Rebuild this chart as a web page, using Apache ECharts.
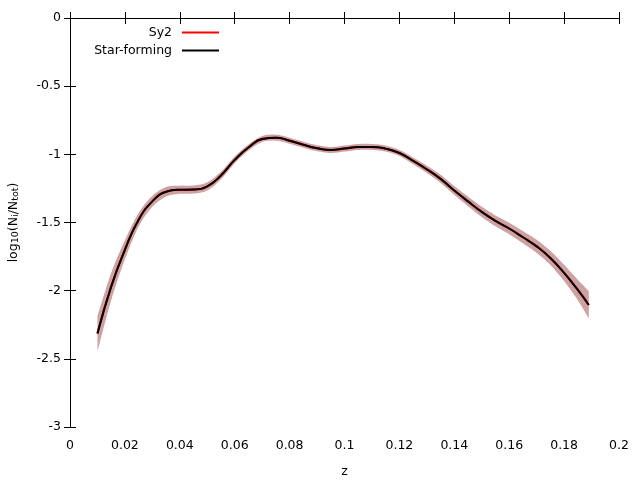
<!DOCTYPE html>
<html>
<head>
<meta charset="utf-8">
<script src="https://cdn.jsdelivr.net/npm/echarts@6/dist/echarts.min.js"></script>
<style>html,body{margin:0;padding:0;background:#fff;}#c{width:640px;height:480px;}</style>
</head>
<body>
<div id="c"></div>
<script>
const zValues = [0.010, 0.015, 0.020, 0.025, 0.030, 0.035, 0.040, 0.045, 0.050, 0.055, 0.060, 0.065, 0.070, 0.075, 0.080, 0.085, 0.090, 0.095, 0.100, 0.105, 0.110, 0.115, 0.120, 0.125, 0.130, 0.135, 0.140, 0.145, 0.150, 0.155, 0.160, 0.165, 0.170, 0.175, 0.180, 0.185, 0.189];
const starForming = [-2.315, -1.97, -1.70, -1.48, -1.345, -1.275, -1.26, -1.258, -1.235, -1.155, -1.041, -0.95, -0.888, -0.878, -0.90, -0.93, -0.955, -0.968, -0.958, -0.946, -0.946, -0.958, -0.99, -1.048, -1.11, -1.18, -1.265, -1.345, -1.422, -1.488, -1.544, -1.608, -1.675, -1.76, -1.87, -1.995, -2.105];
const sy2 = [-2.315, -1.97, -1.70, -1.48, -1.345, -1.275, -1.26, -1.258, -1.235, -1.155, -1.041, -0.95, -0.888, -0.878, -0.90, -0.93, -0.955, -0.968, -0.958, -0.946, -0.946, -0.958, -0.99, -1.048, -1.11, -1.18, -1.265, -1.345, -1.422, -1.488, -1.544, -1.608, -1.675, -1.76, -1.87, -1.995, -2.105];
const bandLower = [-2.445, -2.07, -1.77, -1.53, -1.385, -1.31, -1.29, -1.288, -1.265, -1.183, -1.066, -0.972, -0.91, -0.90, -0.922, -0.952, -0.977, -0.99, -0.98, -0.968, -0.968, -0.98, -1.012, -1.073, -1.137, -1.21, -1.297, -1.38, -1.46, -1.528, -1.586, -1.653, -1.723, -1.812, -1.93, -2.07, -2.205];
const bandUpper = [-2.185, -1.87, -1.63, -1.43, -1.305, -1.24, -1.23, -1.228, -1.205, -1.127, -1.016, -0.928, -0.866, -0.856, -0.878, -0.908, -0.933, -0.946, -0.936, -0.924, -0.924, -0.936, -0.968, -1.023, -1.083, -1.15, -1.233, -1.31, -1.384, -1.448, -1.502, -1.563, -1.627, -1.708, -1.81, -1.92, -2.005];
const legendNames = ['Sy2', 'Star-forming'];
const xTicks = {min: 0, max: 0.2, interval: 0.02};
const yTicks = {min: -3, max: 0, interval: 0.5};

const FONT = 'DejaVu Sans';
const pair = (xs, ys) => xs.map((x, i) => [x, ys[i]]);

// Catmull-Rom smoothing of pixel points (rendering only)
function smoothPixels(pts) {
  const out = [];
  const n = pts.length;
  for (let i = 0; i < n - 1; i++) {
    const p0 = pts[Math.max(i - 1, 0)], p1 = pts[i], p2 = pts[i + 1], p3 = pts[Math.min(i + 2, n - 1)];
    const steps = 8;
    for (let s = 0; s < steps; s++) {
      const t = s / steps, t2 = t * t, t3 = t2 * t;
      out.push([
        0.5 * (2 * p1[0] + (-p0[0] + p2[0]) * t + (2 * p0[0] - 5 * p1[0] + 4 * p2[0] - p3[0]) * t2 + (-p0[0] + 3 * p1[0] - 3 * p2[0] + p3[0]) * t3),
        0.5 * (2 * p1[1] + (-p0[1] + p2[1]) * t + (2 * p0[1] - 5 * p1[1] + 4 * p2[1] - p3[1]) * t2 + (-p0[1] + 3 * p1[1] - 3 * p2[1] + p3[1]) * t3)
      ]);
    }
  }
  out.push(pts[n - 1]);
  return out;
}

const chart = echarts.init(document.getElementById('c'), null, {renderer: 'canvas'});
const tickStyle = {show: true, inside: true, length: 6, lineStyle: {color: '#000', width: 1}};
const lineStyleAxis = {show: true, lineStyle: {color: '#000', width: 1}};
const legendText = {fontFamily: FONT, fontSize: 12.5, color: '#000', padding: [0, 5, 0, 0]};

chart.setOption({
  animation: false,
  backgroundColor: '#fff',
  grid: {left: 70, right: 21, top: 18, bottom: 53, containLabel: false, outerBoundsMode: 'none'},
  legend: [
    {data: [legendNames[0]], right: 421, top: 26, padding: 0, orient: 'vertical', align: 'right', icon: 'rect', itemWidth: 37, itemHeight: 2, textStyle: legendText},
    {data: [legendNames[1]], right: 421, top: 44, padding: 0, orient: 'vertical', align: 'right', icon: 'rect', itemWidth: 37, itemHeight: 2, textStyle: legendText}
  ],
  xAxis: [
    {type: 'value', position: 'bottom', min: xTicks.min, max: xTicks.max, interval: xTicks.interval, z: 10,
     name: 'z', nameLocation: 'middle', nameGap: 38,
     nameTextStyle: {fontFamily: FONT, fontSize: 12.5, color: '#000'},
     axisLine: lineStyleAxis, axisTick: tickStyle, splitLine: {show: false},
     axisLabel: {fontFamily: FONT, fontSize: 12.5, color: '#000', margin: 12}},
    {type: 'value', position: 'top', min: xTicks.min, max: xTicks.max, interval: xTicks.interval, z: 10,
     axisLine: lineStyleAxis, axisTick: tickStyle, splitLine: {show: false}, axisLabel: {show: false}}
  ],
  yAxis: [
    {type: 'value', position: 'left', min: yTicks.min, max: yTicks.max, interval: yTicks.interval, z: 10,
     name: '{a|log}{b|10}{a|(N}{b|i}{a|/N}{b|tot}{a|)}', nameLocation: 'middle', nameGap: 49,
     nameTextStyle: {fontFamily: FONT, fontSize: 12.5, color: '#000',
       rich: {
         a: {fontFamily: FONT, fontSize: 12.5, color: '#000', lineHeight: 14, verticalAlign: 'top'},
         b: {fontFamily: FONT, fontSize: 9.5, color: '#000', lineHeight: 10, verticalAlign: 'bottom', padding: [7, 0, 0, 0]}
       }},
     axisLine: lineStyleAxis, axisTick: tickStyle, splitLine: {show: false},
     axisLabel: {fontFamily: FONT, fontSize: 12.5, color: '#000', margin: 9}},
    {type: 'value', position: 'right', min: yTicks.min, max: yTicks.max, interval: yTicks.interval, z: 10,
     axisLine: lineStyleAxis, axisTick: tickStyle, splitLine: {show: false}, axisLabel: {show: false}}
  ],
  series: [
    {name: 'band', type: 'custom', silent: true, z: 1,
     data: zValues.map((z, i) => [z, bandLower[i], bandUpper[i]]),
     encode: {x: 0, y: [1, 2]},
     renderItem: function (params, api) {
       if (params.dataIndex !== 0) return null;
       const up = smoothPixels(zValues.map((z, i) => api.coord([z, bandUpper[i]])));
       const lo = smoothPixels(zValues.map((z, i) => api.coord([z, bandLower[i]])));
       const points = up.concat(lo.reverse());
       return {type: 'polygon', shape: {points: points}, style: {fill: 'rgb(206,162,162)', stroke: null}};
     }},
    {name: legendNames[0], type: 'line', data: pair(zValues, sy2), smooth: true, symbol: 'none',
     color: '#ff0000', lineStyle: {color: '#ff0000', width: 2}, z: 2},
    {name: legendNames[1], type: 'line', data: pair(zValues, starForming), smooth: true, symbol: 'none',
     color: '#000000', lineStyle: {color: '#000000', width: 2}, z: 3}
  ]
});
</script>
</body>
</html>
